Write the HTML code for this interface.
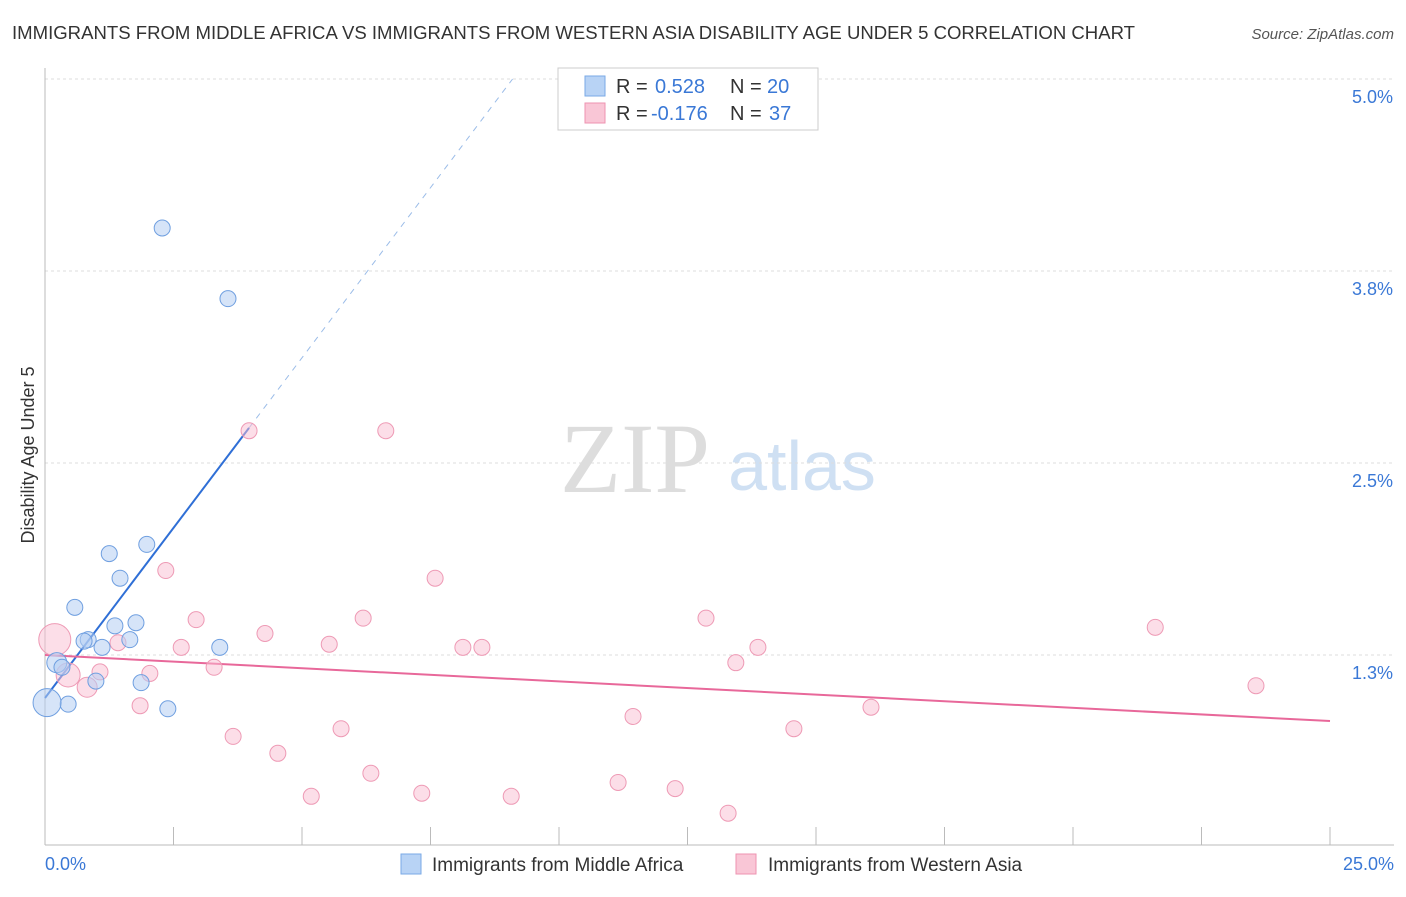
<!DOCTYPE html>
<html><head><meta charset="utf-8"><style>
body{margin:0;background:#fff;font-family:"Liberation Sans",sans-serif;}
svg text{font-family:"Liberation Sans",sans-serif;}
</style></head><body>
<svg id="chart" width="1406" height="892" xmlns="http://www.w3.org/2000/svg">
<text x="12" y="39" font-size="18" fill="#333" textLength="1123" lengthAdjust="spacingAndGlyphs">IMMIGRANTS FROM MIDDLE AFRICA VS IMMIGRANTS FROM WESTERN ASIA DISABILITY AGE UNDER 5 CORRELATION CHART</text>
<text x="1394" y="39" font-size="15" fill="#555" font-style="italic" text-anchor="end">Source: ZipAtlas.com</text>
<g>
<text x="635" y="492" font-size="100" fill="#ddd" font-family="Liberation Serif" text-anchor="middle" style="font-family:'Liberation Serif',serif">ZIP</text>
<text x="802" y="490" font-size="70" fill="#cfe0f3" text-anchor="middle">atlas</text>
</g>
<text transform="translate(34,455) rotate(-90)" font-size="18" fill="#333" text-anchor="middle">Disability Age Under 5</text>
<g id="grid"></g><g id="axes"></g><g id="lines"></g><g id="pts"></g>
<g>
<rect x="558" y="68" width="260" height="62" fill="#fff" stroke="#ccc"/>
<rect x="585" y="76" width="20" height="20" fill="#b8d3f5" stroke="#7aa9e6"/>
<rect x="585" y="103" width="20" height="20" fill="#f9c6d6" stroke="#ee93b0"/>
<text x="616" y="93" font-size="20" fill="#333">R =</text><text x="655" y="93" font-size="20" fill="#3a78d6">0.528</text>
<text x="730" y="93" font-size="20" fill="#333">N =</text><text x="767" y="93" font-size="20" fill="#3a78d6">20</text>
<text x="616" y="120" font-size="20" fill="#333">R =</text><text x="651" y="120" font-size="20" fill="#3a78d6">-0.176</text>
<text x="730" y="120" font-size="20" fill="#333">N =</text><text x="769" y="120" font-size="20" fill="#3a78d6">37</text>
</g>
<g>
<rect x="401" y="854" width="20" height="20" fill="#b8d3f5" stroke="#7aa9e6"/>
<text x="432" y="871" font-size="19" fill="#333">Immigrants from Middle Africa</text>
<rect x="736" y="854" width="20" height="20" fill="#f9c6d6" stroke="#ee93b0"/>
<text x="768" y="871" font-size="19" fill="#333">Immigrants from Western Asia</text>
</g>
</svg>
<script>
const yTicks=[1.25,2.5,3.75,5.0];
const yTickLabels=["1.3%","2.5%","3.8%","5.0%"];
const xTicks=[0,2.5,5,7.5,10,12.5,15,17.5,20,22.5,25];
const xEndLabels=["0.0%","25.0%"];
const blueX=[2.28,3.56,1.25,1.98,1.46,0.58,1.36,1.77,0.84,0.76,1.11,1.65,3.40,0.99,1.87,2.39,0.45,0.04,0.23,0.33];
const blueY=[4.03,3.57,1.91,1.97,1.75,1.56,1.44,1.46,1.35,1.34,1.30,1.35,1.30,1.08,1.07,0.90,0.93,0.94,1.20,1.17];
const blueR=[8,8,8,8,8,8,8,8,8,8,8,8,8,8,8,8,8,14,10,8];
const pinkX=[0.19,0.45,0.82,1.07,1.42,1.85,2.04,2.35,2.65,2.94,3.29,3.66,3.97,4.28,4.53,5.18,5.53,5.76,6.19,6.34,6.63,7.33,7.59,8.13,8.50,9.07,11.15,11.44,12.26,12.86,13.29,13.44,13.87,14.57,16.07,21.60,23.56];
const pinkY=[1.35,1.12,1.04,1.14,1.33,0.92,1.13,1.80,1.30,1.48,1.17,0.72,2.71,1.39,0.61,0.33,1.32,0.77,1.49,0.48,2.71,0.35,1.75,1.30,1.30,0.33,0.42,0.85,0.38,1.49,0.22,1.20,1.30,0.77,0.91,1.43,1.05];
const pinkR=[16,12,10,8,8,8,8,8,8,8,8,8,8,8,8,8,8,8,8,8,8,8,8,8,8,8,8,8,8,8,8,8,8,8,8,8,8];
const blueTrend=[0.97,0.443];
const pinkTrend=[1.25,-0.0172];
const NS="http://www.w3.org/2000/svg";
const X=v=>45+v/25*1285, Y=v=>655-(v-1.25)/1.25*192;
function mk(t,a,p){const e=document.createElementNS(NS,t);for(const k in a)e.setAttribute(k,a[k]);document.getElementById(p).appendChild(e);return e;}
yTicks.forEach((v,i)=>{
 const l=mk('line',{x1:45,x2:1394,y1:Y(v),y2:Y(v),stroke:'#ddd','stroke-dasharray':'3,3'},'grid');
 
 
 const t=mk('text',{x:1393,y:Y(v)+24,'font-size':18,fill:'#3a78d6','text-anchor':'end'},'axes');
 t.textContent=yTickLabels[i];
 
 
});
const ax=mk('line',{x1:45,x2:1394,y1:845,y2:845,stroke:'#bbb'},'axes');


const ay=mk('line',{x1:45,x2:45,y1:68,y2:845,stroke:'#bbb'},'axes');


xTicks.forEach(v=>{const l=mk('line',{x1:X(v),x2:X(v),y1:827,y2:845,stroke:'#bbb'},'axes');
 
 });
[[0,45,'start'],[25,1394,'end']].forEach((d,i)=>{const t=mk('text',{x:d[1],y:870,'font-size':18,fill:'#3a78d6','text-anchor':d[2]},'axes');t.textContent=xEndLabels[i];
 
 });
const bEnd=3.97, bDash=(5.0-blueTrend[0])/blueTrend[1];
let l=mk('line',{x1:X(0),y1:Y(blueTrend[0]),x2:X(bEnd),y2:Y(blueTrend[0]+blueTrend[1]*bEnd),stroke:'#2f6fd6','stroke-width':2},'lines');


l=mk('line',{x1:X(bEnd),y1:Y(blueTrend[0]+blueTrend[1]*bEnd),x2:X(bDash),y2:Y(5.0),stroke:'#9bbce8','stroke-width':1,'stroke-dasharray':'6,6'},'lines');


l=mk('line',{x1:X(0),y1:Y(pinkTrend[0]),x2:X(25),y2:Y(pinkTrend[0]+pinkTrend[1]*25),stroke:'#e8689a','stroke-width':2},'lines');


pinkX.forEach((v,i)=>{const c=mk('circle',{cx:X(v),cy:Y(pinkY[i]),r:pinkR[i],fill:'rgba(249,190,210,0.5)',stroke:'#ee9ab5','stroke-width':1},'pts');
 
 });
blueX.forEach((v,i)=>{const c=mk('circle',{cx:X(v),cy:Y(blueY[i]),r:blueR[i],fill:'rgba(180,206,243,0.55)',stroke:'#6f9fe0','stroke-width':1},'pts');
 
 });
</script>
</body></html>
